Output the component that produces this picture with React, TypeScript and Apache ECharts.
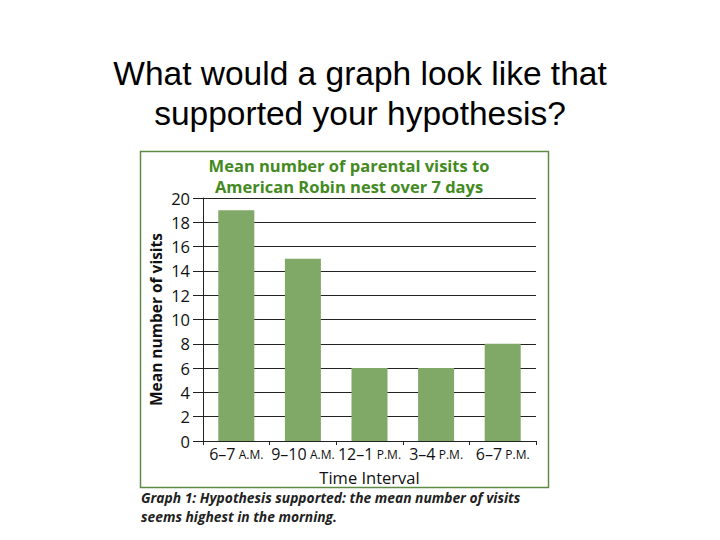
import React, { useEffect, useRef } from "react";
import * as echarts from "echarts";

const categories = ["6–7|A.M.", "9–10|A.M.", "12–1|P.M.", "3–4|P.M.", "6–7|P.M."];
const visits = [19, 15, 6, 6, 8];
const yTicks = [0, 2, 4, 6, 8, 10, 12, 14, 16, 18, 20];

export default function App() {
  const ref = useRef<HTMLDivElement>(null);
  useEffect(() => {
    if (!ref.current) return;
    const chart = echarts.init(ref.current, null, { renderer: "svg" });
    const labelFont = "'Open Sans', 'DejaVu Sans', sans-serif";
    chart.setOption({
      animation: false,
      backgroundColor: "#ffffff",
      graphic: [
        {
          type: "text",
          x: 360,
          y: 53,
          style: {
            text: "What would a graph look like that\nsupported your hypothesis?",
            font: "33.5px 'Liberation Sans', Arial, sans-serif",
            fill: "#000",
            align: "center",
            lineHeight: 40,
          },
        },
        {
          type: "text",
          x: 349,
          y: 155,
          style: {
            text: "Mean number of parental visits to\nAmerican Robin nest over 7 days",
            font: "bold 16.5px 'Open Sans', 'DejaVu Sans', sans-serif",
            fill: "#438a22",
            align: "center",
            lineHeight: 21,
          },
        },
        {
          type: "rect",
          shape: { x: 140.5, y: 151.5, width: 408, height: 336 },
          style: { fill: "none", stroke: "#5f8a45", lineWidth: 1.5 },
          silent: true,
        },
        {
          type: "text",
          x: 141,
          y: 488,
          style: {
            text: "Graph 1: Hypothesis supported: the mean number of visits\nseems highest in the morning.",
            font: "italic bold 13.8px 'Open Sans', 'DejaVu Sans', sans-serif",
            fill: "#222",
            lineHeight: 19,
          },
        },
      ],
      grid: { left: 203, right: 184, top: 198, bottom: 99 },
      xAxis: {
        type: "category",
        data: categories,
        axisLine: { show: true, lineStyle: { color: "#222", width: 1 } },
        axisTick: { show: true, alignWithLabel: false, length: 4, lineStyle: { color: "#222" } },
        axisLabel: {
          interval: 0,
          margin: 5,
          formatter: (v: string) => {
            const [a, b] = v.split("|");
            return `{n|${a}} {s|${b}}`;
          },
          rich: {
            n: { fontFamily: labelFont, fontSize: 16, color: "#111" },
            s: { fontFamily: labelFont, fontSize: 12, color: "#111" },
          },
        },
        name: "Time Interval",
        nameLocation: "middle",
        nameGap: 28,
        nameTextStyle: { fontFamily: labelFont, fontSize: 16.5, color: "#111" },
      },
      yAxis: {
        type: "value",
        min: 0,
        max: 20,
        interval: 2,
        axisLine: { show: true, lineStyle: { color: "#222", width: 1 } },
        axisTick: { show: true, length: 10, inside: false, lineStyle: { color: "#222" } },
        splitLine: { show: true, lineStyle: { color: "#222", width: 1 } },
        axisLabel: {
          margin: 13,
          fontFamily: labelFont,
          fontSize: 16.5,
          color: "#111",
          formatter: (v: number) => (yTicks.includes(v) ? String(v) : ""),
        },
        name: "Mean number of visits",
        nameLocation: "middle",
        nameGap: 39,
        nameTextStyle: { fontFamily: labelFont, fontSize: 15.5, fontWeight: "bold", color: "#111" },
      },
      series: [
        {
          type: "bar",
          data: visits,
          barWidth: 36,
          itemStyle: { color: "#80a866" },
          silent: true,
        },
      ],
    });
    return () => chart.dispose();
  }, []);
  return (
    <div
      ref={ref}
      style={{ position: "fixed", left: 0, top: 0, width: 720, height: 540 }}
    />
  );
}
